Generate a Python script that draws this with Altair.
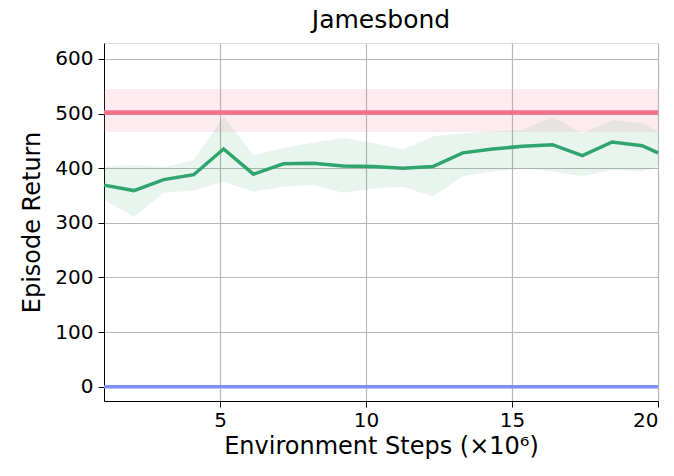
import altair as alt
import pandas as pd

# Training curve (mean and spread across seeds), x in millions of environment steps
steps = [1.024, 2.048, 3.072, 4.096, 5.12, 6.144, 7.168, 8.192, 9.216, 10.24,
         11.264, 12.288, 13.312, 14.336, 15.36, 16.384, 17.408, 18.432, 19.456, 20.0]
mean_return = [369, 359, 379, 388, 435, 389, 408, 409, 404, 403,
               400, 403, 428, 435, 440, 443, 423, 448, 441, 428]
upper_return = [403, 406, 402, 415, 494, 424, 437, 447, 455, 446,
                434, 458, 464, 467, 470, 494, 464, 488, 482, 467]
lower_return = [342, 311, 355, 359, 375, 357, 366, 369, 355, 363,
                366, 348, 385, 394, 400, 394, 385, 397, 394, 403]

# Reference scores: human (with spread) and random
human_score = [502]
human_low = [466]
human_high = [545]
random_score = [0]

GREEN = "#2fa56d"
RED = "#f4718b"
BLUE = "#7f90f2"
FONT = "DejaVu Sans"

curve = pd.DataFrame({"step": steps, "mean": mean_return,
                      "lo": lower_return, "hi": upper_return})
human = pd.DataFrame({"y": human_score, "lo": human_low, "hi": human_high})
rand = pd.DataFrame({"y": random_score})

x_scale = alt.Scale(domain=[1.024, 20], nice=False, zero=False)
y_scale = alt.Scale(domain=[-26, 629], nice=False, zero=False)

x_axis = alt.Axis(values=[5, 10, 15, 20], title="Environment Steps (×10⁶)",
                  grid=True, gridColor="#b8b8b8", gridWidth=1.2,
                  domainColor="black", tickColor="black", tickSize=6,
                  labelFontSize=20, titleFontSize=24, labelColor="black",
                  titleColor="black", titleFontWeight="normal", labelPadding=3,
                  titlePadding=4, labelFont=FONT, titleFont=FONT)
y_axis = alt.Axis(values=[0, 100, 200, 300, 400, 500, 600], title="Episode Return",
                  grid=True, gridColor="#b8b8b8", gridWidth=1.2,
                  domainColor="black", tickColor="black", tickSize=6,
                  labelFontSize=20, titleFontSize=24, labelColor="black",
                  titleColor="black", titleFontWeight="normal", labelPadding=5,
                  titlePadding=10, labelFont=FONT, titleFont=FONT)

human_band = alt.Chart(human).mark_rect(color=RED, opacity=0.14).encode(
    y=alt.Y("lo:Q", scale=y_scale, axis=y_axis), y2="hi:Q")
human_line = alt.Chart(human).mark_rule(color=RED, strokeWidth=4.5).encode(
    y=alt.Y("y:Q", scale=y_scale))
random_line = alt.Chart(rand).mark_rule(color=BLUE, strokeWidth=3.5).encode(
    y=alt.Y("y:Q", scale=y_scale))

band = alt.Chart(curve).mark_area(color=GREEN, opacity=0.11).encode(
    x=alt.X("step:Q", scale=x_scale, axis=x_axis),
    y=alt.Y("lo:Q", scale=y_scale, axis=y_axis),
    y2="hi:Q")
line = alt.Chart(curve).mark_line(color=GREEN, strokeWidth=3.5).encode(
    x=alt.X("step:Q", scale=x_scale),
    y=alt.Y("mean:Q", scale=y_scale))

chart = alt.layer(human_band, band, human_line, random_line, line).properties(
    width=554, height=358,
    title=alt.TitleParams("Jamesbond", fontSize=25, font=FONT,
                          fontWeight="normal", color="black", offset=10),
    autosize=alt.AutoSizeParams(type="none"),
    padding={"left": 104, "top": 43, "right": 16, "bottom": 75},
).configure_view(stroke="black", strokeWidth=1.2).configure(background="white")

chart.save("out.html", embed_options={"renderer": "svg", "actions": False})
